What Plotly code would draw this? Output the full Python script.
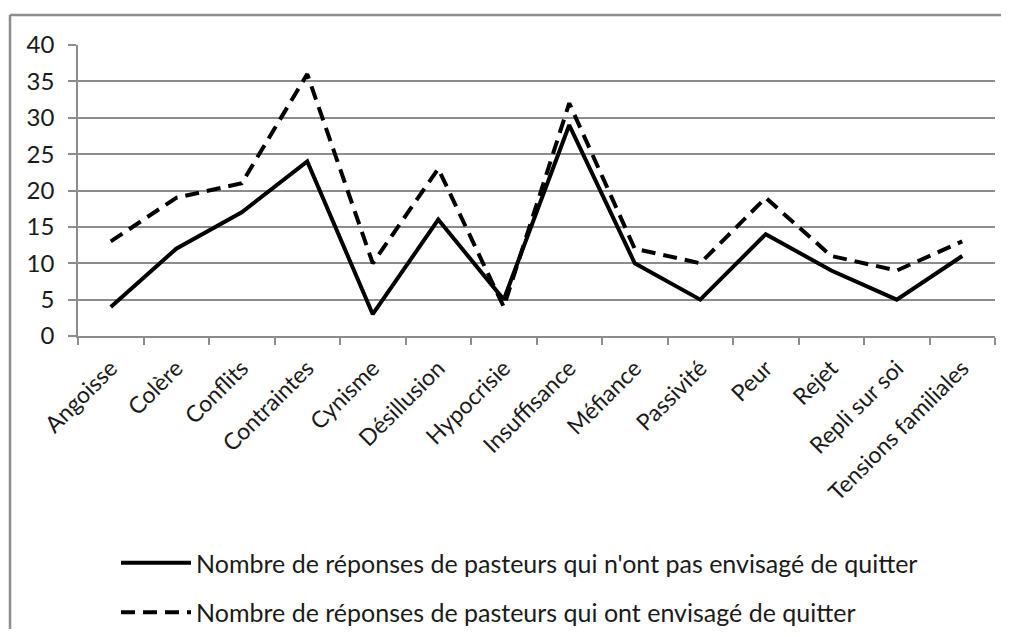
import plotly.graph_objects as go

categories = ["Angoisse", "Colère", "Conflits", "Contraintes", "Cynisme", "Désillusion",
              "Hypocrisie", "Insuffisance", "Méfiance", "Passivité", "Peur", "Rejet",
              "Repli sur soi", "Tensions familiales"]
not_considered = [4, 12, 17, 24, 3, 16, 5, 29, 10, 5, 14, 9, 5, 11]
considered = [13, 19, 21, 36, 10, 23, 4, 32, 12, 10, 19, 11, 9, 13]
name_not = "Nombre de réponses de pasteurs qui n'ont pas envisagé de quitter"
name_yes = "Nombre de réponses de pasteurs qui ont envisagé de quitter"
y_ticks = [0, 5, 10, 15, 20, 25, 30, 35, 40]

FONT = "Lato"
TXT = "#1a1a1a"
GRID = "#8c8c8c"
OFF = 8  # page body margin offset in the browser
W, H = 1009 - 2 * OFF, 637 - 2 * OFF
ML, MT = 78 - OFF, 45 - OFF
MR = W - (995 - OFF)
MB = H - (336 - OFF)
PW, PH = W - ML - MR, H - MT - MB

fig = go.Figure()
fig.add_trace(go.Scatter(x=categories, y=not_considered, mode="lines", name=name_not,
                         legendgroup="a",
                         line=dict(color="black", width=4)))
fig.add_trace(go.Scatter(x=categories, y=considered, mode="lines", name=name_yes,
                         legendgroup="b",
                         line=dict(color="black", width=4, dash="14px,8px")))

def px_x(p):
    return (p - OFF - ML) / PW

def px_y(p):
    return (H - MB - (p - OFF)) / PH

fig.add_shape(type="line", xref="paper", yref="paper",
              x0=px_x(10), x1=px_x(1020), y0=px_y(15), y1=px_y(15),
              line=dict(color=GRID, width=2.5))
fig.add_shape(type="line", xref="paper", yref="paper",
              x0=px_x(10), x1=px_x(10), y0=px_y(15), y1=px_y(650),
              line=dict(color=GRID, width=2.5))

fig.update_layout(
    width=W, height=H,
    margin=dict(l=ML, r=MR, t=MT, b=MB, autoexpand=False),
    paper_bgcolor="white", plot_bgcolor="white",
    font=dict(family=FONT, size=22, color=TXT),
    showlegend=True,
    legend=dict(x=px_x(116), y=px_y(540), xanchor="left", yanchor="top",
                traceorder="grouped", tracegroupgap=14,
                font=dict(family=FONT, size=25, color=TXT),
                itemwidth=70, bgcolor="rgba(0,0,0,0)"),
)
fig.update_xaxes(type="category", categoryorder="array", categoryarray=categories,
                 range=[-0.5, len(categories) - 0.5],
                 tickangle=-45, showgrid=False, showline=True, linecolor=GRID,
                 linewidth=1.5, ticks="outside", tickson="boundaries", ticklen=7,
                 tickcolor=GRID, tickwidth=1.5, automargin=False,
                 ticklabelstandoff=8,
                 tickfont=dict(family=FONT, size=23, color=TXT))
fig.update_yaxes(range=[0, 40], tickvals=y_ticks, showgrid=True, gridcolor=GRID,
                 gridwidth=1.5, showline=True, linecolor=GRID, linewidth=1.5,
                 ticks="outside", ticklen=8, tickcolor=GRID, tickwidth=1.5,
                 ticklabelstandoff=9, zeroline=False, automargin=False,
                 tickfont=dict(family=FONT, size=24, color=TXT))

fig.write_html("out.html")
